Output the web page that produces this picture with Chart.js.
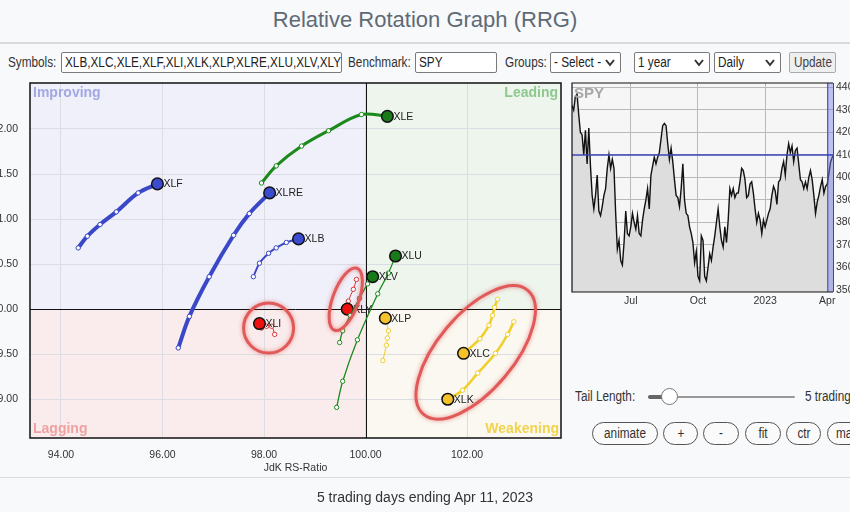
<!DOCTYPE html>
<html><head><meta charset="utf-8">
<script src="https://cdn.jsdelivr.net/npm/chart.js@4.4.0/dist/chart.umd.min.js"></script>
<style>
html,body{margin:0;padding:0;}
body{width:850px;height:512px;overflow:hidden;position:relative;background:#f8f9fb;font-family:"Liberation Sans",Arial,sans-serif;color:#333;}
#title{position:absolute;top:7px;left:0;width:850px;text-align:center;font-size:22px;color:#5e6a76;}
#hr1{position:absolute;top:42px;left:0;width:850px;height:2px;background:#d8dadc;}
#hr2{position:absolute;top:477px;left:0;width:850px;height:1px;background:#d8dadc;}
.n{font-size:14px;}
.sq{display:inline-block;transform:scaleX(.84);transform-origin:0 50%;white-space:nowrap;}
.lbl{position:absolute;top:54px;color:#333;white-space:nowrap;}
.box{position:absolute;top:52px;height:21px;box-sizing:border-box;border:1px solid #7a7a7a;background:#fff;line-height:19px;padding:0 3px;overflow:hidden;white-space:nowrap;border-radius:2px;color:#222;}
.sel svg{position:absolute;right:5px;top:6px;}
.btn{position:absolute;box-sizing:border-box;border:1px solid #555;border-radius:12px;background:#fafafa;color:#333;height:23px;line-height:21px;overflow:hidden;}
.btn .sq{position:absolute;left:50%;transform:translateX(-50%) scaleX(.84);transform-origin:50% 50%;}
#spyLbl{position:absolute;left:574px;top:84px;font:bold 15px "Liberation Sans",Arial,sans-serif;color:#a8a8a8;}
canvas{position:absolute;}
</style></head>
<body>
<div id="title">Relative Rotation Graph (RRG)</div>
<div id="hr1"></div>

<div class="lbl n" style="left:8px;"><span class="sq">Symbols:</span></div>
<div class="box n" style="left:61px;width:281px;"><span class="sq">XLB,XLC,XLE,XLF,XLI,XLK,XLP,XLRE,XLU,XLV,XLY</span></div>
<div class="lbl n" style="left:348px;"><span class="sq">Benchmark:</span></div>
<div class="box n" style="left:415px;width:82px;"><span class="sq">SPY</span></div>
<div class="lbl n" style="left:505px;"><span class="sq">Groups:</span></div>
<div class="box n sel" style="left:550px;width:71px;"><span class="sq">- Select -</span><svg width="10" height="8"><polyline points="1,1 5,6 9,1" fill="none" stroke="#333" stroke-width="2"/></svg></div>
<div class="box n sel" style="left:634px;width:76px;"><span class="sq">1 year</span><svg width="10" height="8"><polyline points="1,1 5,6 9,1" fill="none" stroke="#333" stroke-width="2"/></svg></div>
<div class="box n sel" style="left:714px;width:67px;"><span class="sq">Daily</span><svg width="10" height="8"><polyline points="1,1 5,6 9,1" fill="none" stroke="#333" stroke-width="2"/></svg></div>
<div class="box n" style="left:789px;width:47px;background:#efefef;border-color:#aaa;color:#444;padding-left:4px;"><span class="sq">Update</span></div>

<canvas id="rrg" width="592" height="398" style="left:-30px;top:80px;"></canvas>
<canvas id="spy" width="310" height="235" style="left:560px;top:80px;"></canvas>
<div id="spyLbl">SPY</div>

<div class="lbl n" style="left:575px;top:388px;"><span class="sq">Tail Length:</span></div>
<div style="position:absolute;left:648px;top:396px;width:147px;height:2px;background:#999;border-radius:1px;"></div>
<div style="position:absolute;left:648px;top:395px;width:22px;height:4px;background:#666;border-radius:2px;"></div>
<div style="position:absolute;left:661px;top:388px;width:15px;height:15px;border-radius:50%;background:#fff;border:1.5px solid #777;"></div>
<div class="lbl n" style="left:805px;top:388px;"><span class="sq">5 trading days</span></div>

<div class="btn n" style="left:592px;top:422px;width:66px;"><span class="sq">animate</span></div>
<div class="btn n" style="left:663px;top:422px;width:35px;"><span class="sq">+</span></div>
<div class="btn n" style="left:703px;top:422px;width:36px;"><span class="sq">-</span></div>
<div class="btn n" style="left:745px;top:422px;width:36px;"><span class="sq">fit</span></div>
<div class="btn n" style="left:786px;top:422px;width:35px;"><span class="sq">ctr</span></div>
<div class="btn n" style="left:827px;top:422px;width:45px;"><span class="sq" style="left:8px;transform:scaleX(.84);transform-origin:0 50%;">max</span></div>

<div id="hr2"></div>
<div style="position:absolute;top:489px;left:0;width:850px;text-align:center;font-size:14px;color:#333;">5 trading days ending Apr 11, 2023</div>

<script>
// ---------- RRG data (JdK RS-Ratio, JdK RS-Momentum), oldest -> latest ----------
const xTicks = [94, 96, 98, 100, 102];
const yTicks = [99.0, 99.5, 100.0, 100.5, 101.0, 101.5, 102.0];
const XLF  = [[94.34,100.68],[94.52,100.81],[94.77,100.94],[95.09,101.08],[95.52,101.29],[95.90,101.39]];
const XLRE = [[96.31,99.57],[96.53,99.92],[96.92,100.36],[97.40,100.82],[97.71,101.06],[98.11,101.29]];
const XLB  = [[97.79,100.36],[97.91,100.51],[98.09,100.62],[98.24,100.68],[98.44,100.74],[98.68,100.78]];
const XLE  = [[97.95,101.40],[98.24,101.59],[98.74,101.81],[99.27,101.98],[99.92,102.16],[100.43,102.14]];
const XLU  = [[99.43,98.91],[99.55,99.20],[99.84,99.66],[100.24,100.17],[100.45,100.40],[100.59,100.59]];
const XLV  = [[99.49,99.63],[99.55,99.76],[99.70,99.93],[99.88,100.12],[100.04,100.28],[100.14,100.36]];
const XLY  = [[99.82,100.33],[99.76,100.22],[99.66,100.09],[99.64,100.00]];
const XLI  = [[98.21,99.72],[98.15,99.81],[98.05,99.81],[97.95,99.79],[97.91,99.84]];
const XLP  = [[100.34,99.43],[100.41,99.60],[100.43,99.68],[100.45,99.76],[100.39,99.90]];
const XLC  = [[102.60,100.11],[102.54,100.02],[102.50,99.93],[102.43,99.82],[102.25,99.67],[101.93,99.51]];
const XLK  = [[102.92,99.86],[102.80,99.72],[102.56,99.51],[102.21,99.29],[101.91,99.10],[101.62,99.00]];

// ---------- SPY daily closes (approx.), Apr 2022 -> Apr 11 2023 ----------
const spyClose = [432,430,436,437,428,420,419,410,421,406,
422,405,392,386,392,401,385,383,387,392,
395,404,410,404,408,404,384,368,372,363,
361,371,385,375,374,378,384,380,377,383,
375,374,381,386,390,395,386,401,405,409,
406,409,411,417,423,424,423,415,408,413,
407,399,392,391,387,395,406,390,384,383,
378,375,371,362,367,356,354,374,372,356,
354,360,366,363,369,374,380,386,378,372,
369,378,371,381,395,392,395,391,393,393,
398,404,403,399,391,392,397,398,393,386,
380,384,381,375,381,378,381,384,386,392,
396,394,388,398,399,404,407,401,410,415,
411,414,407,412,413,406,399,398,395,398,
395,400,403,399,392,384,389,392,396,399,
393,396,397,402,407,409,410];
const spyTickPos = [35, 75, 115, 152];
const spyTickLbl = ['Jul', 'Oct', '2023', 'Apr'];
const spyYTicks = [350, 360, 370, 380, 390, 400, 410, 420, 430, 440];
const tailDays = 5;

const BLUE = '#3a48c8', GREEN = '#1b8a1b', RED = '#e03434', YEL = '#f0cf2a';
const HEAD = {[BLUE]:'#3b4bd0', [GREEN]:'#1a7a1a', [RED]:'#ee1010', [YEL]:'#f5c22a'};
const series = [
  {name:'XLF', pts:XLF, color:BLUE, w:4},
  {name:'XLRE', pts:XLRE, color:BLUE, w:4},
  {name:'XLB', pts:XLB, color:BLUE, w:2},
  {name:'XLE', pts:XLE, color:GREEN, w:3},
  {name:'XLU', pts:XLU, color:GREEN, w:1.3},
  {name:'XLV', pts:XLV, color:GREEN, w:1.3},
  {name:'XLY', pts:XLY, color:RED, w:1},
  {name:'XLI', pts:XLI, color:RED, w:1},
  {name:'XLP', pts:XLP, color:YEL, w:1},
  {name:'XLC', pts:XLC, color:YEL, w:2.5},
  {name:'XLK', pts:XLK, color:YEL, w:2.5}
];
// annotation ellipses: centre in data units
const rings = [
  {x:98.09, y:99.79, rx:25, ry:25, rot:0},
  {x:99.61, y:100.11, rx:33, ry:13, rot:-70},
  {x:102.17, y:99.52, rx:81, ry:38, rot:-50}
];

const FONT = '"Liberation Sans", Arial, sans-serif';
Chart.defaults.font.family = FONT;
Chart.defaults.color = '#333';
const noPadH = s => { s.paddingLeft = 0; s.paddingRight = 0; };
const noPadV = s => { s.paddingTop = 0; s.paddingBottom = 0; };

const quadPlugin = {
  id:'quad',
  beforeDraw(chart){
    const {ctx, chartArea:a, scales:{x, y}} = chart;
    const cx = x.getPixelForValue(100), cy = y.getPixelForValue(100);
    ctx.save();
    ctx.fillStyle = '#eff0fa'; ctx.fillRect(a.left, a.top, cx - a.left, cy - a.top);
    ctx.fillStyle = '#edf5ed'; ctx.fillRect(cx, a.top, a.right - cx, cy - a.top);
    ctx.fillStyle = '#faecec'; ctx.fillRect(a.left, cy, cx - a.left, a.bottom - cy);
    ctx.fillStyle = '#faf8f0'; ctx.fillRect(cx, cy, a.right - cx, a.bottom - cy);
    ctx.restore();
  },
  beforeDatasetsDraw(chart){
    const {ctx, chartArea:a, scales:{x, y}} = chart;
    const cx = x.getPixelForValue(100), cy = y.getPixelForValue(100);
    ctx.save();
    ctx.font = 'bold 14px ' + FONT; ctx.textBaseline = 'middle';
    ctx.fillStyle = '#a2a8e2'; ctx.textAlign = 'left'; ctx.fillText('Improving', a.left + 3, a.top + 10);
    ctx.fillStyle = '#8fc78f'; ctx.textAlign = 'right'; ctx.fillText('Leading', a.right - 3, a.top + 10);
    ctx.fillStyle = '#eea2a2'; ctx.textAlign = 'left'; ctx.fillText('Lagging', a.left + 3, a.bottom - 9);
    ctx.fillStyle = '#f2d34c'; ctx.textAlign = 'right'; ctx.fillText('Weakening', a.right - 2, a.bottom - 9);
    ctx.strokeStyle = '#111'; ctx.lineWidth = 1;
    ctx.beginPath();
    ctx.moveTo(Math.round(cx) + 0.5, a.top); ctx.lineTo(Math.round(cx) + 0.5, a.bottom);
    ctx.moveTo(a.left, Math.round(cy) + 0.5); ctx.lineTo(a.right, Math.round(cy) + 0.5);
    ctx.stroke();
    ctx.lineWidth = 1.5;
    ctx.strokeRect(a.left, a.top, a.right - a.left, a.bottom - a.top);
    ctx.restore();
  },
  afterDatasetsDraw(chart){
    const {ctx, scales:{x, y}} = chart;
    ctx.save();
    ctx.font = '10.5px ' + FONT; ctx.fillStyle = '#222'; ctx.textBaseline = 'middle'; ctx.textAlign = 'left';
    chart.data.datasets.forEach((ds, i) => {
      const m = chart.getDatasetMeta(i); const p = m.data[m.data.length - 1];
      ctx.fillText(ds.label, p.x + 6, p.y + 0.5);
    });
    rings.forEach(r => {
      ctx.save();
      ctx.translate(x.getPixelForValue(r.x), y.getPixelForValue(r.y));
      ctx.rotate(r.rot * Math.PI / 180);
      ctx.beginPath(); ctx.ellipse(0, 0, r.rx, r.ry, 0, 0, Math.PI * 2);
      ctx.shadowColor = 'rgba(220,60,60,0.55)'; ctx.shadowBlur = 4;
      ctx.strokeStyle = '#e05a5a'; ctx.lineWidth = 3; ctx.stroke();
      ctx.restore();
    });
    ctx.restore();
  }
};

new Chart(document.getElementById('rrg'), {
  type:'scatter',
  data:{datasets: series.map(s => {
    const n = s.pts.length;
    return {
      label:s.name,
      data:s.pts.map(p => ({x:p[0], y:p[1]})),
      showLine:true, borderColor:s.color, borderWidth:s.w, tension:0.35,
      pointRadius: s.pts.map((_, i) => i === n - 1 ? 5.8 : 2.2),
      pointBackgroundColor: s.pts.map((_, i) => i === n - 1 ? HEAD[s.color] : '#fff'),
      pointBorderColor: s.pts.map((_, i) => i === n - 1 ? '#111' : s.color),
      pointBorderWidth: s.pts.map((_, i) => i === n - 1 ? 1.5 : 1)
    };
  })},
  options:{
    responsive:false, animation:false, devicePixelRatio:1,
    layout:{autoPadding:false, padding:{top:3, right:1, left:0, bottom:0}},
    plugins:{legend:{display:false}, tooltip:{enabled:false}},
    scales:{
      x:{type:'linear', min:93.39, max:103.85,
        afterBuildTicks:a => { a.ticks = xTicks.map(v => ({value:v})); },
        afterFit:s => { s.height = 40; noPadH(s); },
        grid:{color:'#dcdde3', drawTicks:false}, border:{display:false},
        ticks:{padding:11, font:{size:10.5}, color:'#333', callback:v => Number(v).toFixed(2)},
        title:{display:true, text:'JdK RS-Ratio', font:{size:10.5}, color:'#333', padding:{top:0, bottom:4}}
      },
      y:{type:'linear', min:98.57, max:102.51,
        afterBuildTicks:a => { a.ticks = yTicks.map(v => ({value:v})); },
        afterFit:s => { s.width = 60; noPadV(s); },
        grid:{color:'#dcdde3', drawTicks:false}, border:{display:false},
        ticks:{padding:12, font:{size:10.5}, color:'#333', callback:v => Number(v).toFixed(2)}
      }
    }
  },
  plugins:[quadPlugin]
});

// ---------- SPY benchmark panel ----------
const spyPlugin = {
  id:'spyp',
  beforeDraw(chart){
    const {ctx, chartArea:a} = chart;
    ctx.save(); ctx.fillStyle = '#f6f6f6'; ctx.fillRect(a.left, a.top, a.right - a.left, a.bottom - a.top); ctx.restore();
  },
  afterDatasetsDraw(chart){
    const {ctx, chartArea:a, scales:{x, y}} = chart;
    const n = spyClose.length;
    const bx = x.getPixelForValue(n - tailDays);
    const ly = y.getPixelForValue(spyClose[n - 1]);
    ctx.save();
    ctx.fillStyle = 'rgba(120,130,235,0.45)'; ctx.fillRect(bx, a.top, a.right - bx, a.bottom - a.top);
    ctx.strokeStyle = '#3a44b8'; ctx.lineWidth = 1.5;
    ctx.beginPath(); ctx.moveTo(a.left, ly); ctx.lineTo(a.right, ly); ctx.stroke();
    ctx.lineWidth = 1;
    ctx.beginPath(); ctx.moveTo(bx + 0.5, a.top); ctx.lineTo(bx + 0.5, a.bottom); ctx.stroke();
    ctx.beginPath(); ctx.moveTo(a.right - 0.5, a.top); ctx.lineTo(a.right - 0.5, a.bottom); ctx.stroke();
    ctx.strokeStyle = '#111'; ctx.lineWidth = 1.2;
    ctx.beginPath(); ctx.moveTo(a.right - 1, a.top); ctx.lineTo(a.left, a.top); ctx.lineTo(a.left, a.bottom); ctx.lineTo(a.right - 1, a.bottom); ctx.stroke();
    ctx.restore();
  }
};

new Chart(document.getElementById('spy'), {
  type:'line',
  data:{datasets:[{
    data: spyClose.map((v, i) => ({x:i, y:v})),
    borderColor:'#111', borderWidth:1.4, pointRadius:0, tension:0,
    fill:'start', backgroundColor:'#dddddd'
  }]},
  options:{
    responsive:false, animation:false, devicePixelRatio:1,
    layout:{autoPadding:false, padding:{top:3, left:12, right:0, bottom:0}},
    plugins:{legend:{display:false}, tooltip:{enabled:false}},
    scales:{
      x:{type:'linear', min:0, max:spyClose.length - 1,
        afterBuildTicks:a => { a.ticks = spyTickPos.map(v => ({value:v})); },
        afterFit:s => { s.height = 23; noPadH(s); },
        grid:{color:'#b9b9b9', drawTicks:false}, border:{display:false},
        ticks:{padding:3, font:{size:10.5}, color:'#333', callback:(v, i) => spyTickLbl[i]}
      },
      y:{type:'linear', position:'right', min:349, max:442,
        afterBuildTicks:a => { a.ticks = spyYTicks.map(v => ({value:v})); },
        afterFit:s => { s.width = 36; noPadV(s); },
        grid:{color:'#b9b9b9', drawTicks:false}, border:{display:false},
        ticks:{padding:2, font:{size:10.5}, color:'#333'}
      }
    }
  },
  plugins:[spyPlugin]
});
</script>
</body></html>
